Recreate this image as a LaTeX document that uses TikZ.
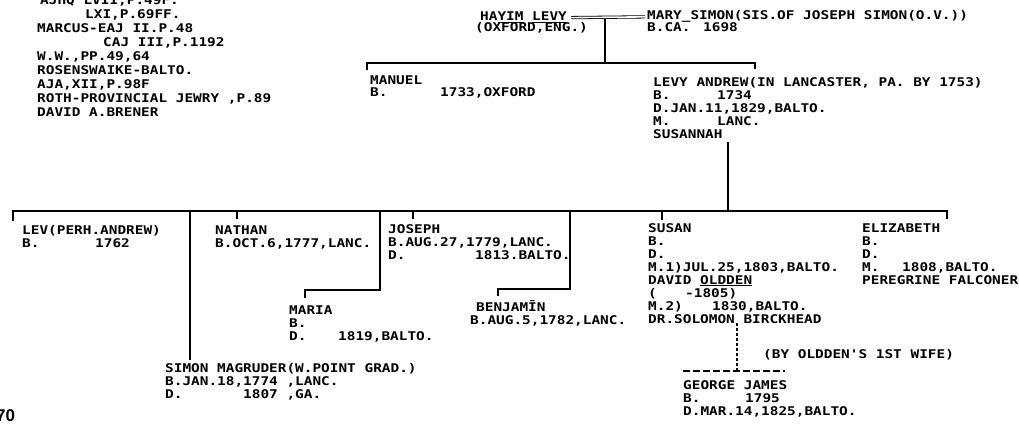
\documentclass[tikz,border=0pt]{standalone}
\usepackage{fontspec}
\newfontfamily\typefont[FakeStretch=1.2]{DejaVu Sans Mono}
\newfontfamily\pagefont{Liberation Sans}
\usetikzlibrary{positioning}
\newcommand{\col}[2]{\makebox[#1][l]{#2}}

\begin{document}
\begin{tikzpicture}[x=1pt, y=-1pt,
  person/.style={anchor=base west, inner sep=0pt, align=left,
                 font=\typefont\bfseries\fontsize{12}{13}\selectfont},
  sources/.style={person, font=\typefont\bfseries\fontsize{12}{14}\selectfont},
  treeline/.style={line width=1.3pt},
  wedline/.style={double, double distance=1.6pt, line width=0.8pt},
  dashline/.style={line width=1.1pt, dash pattern=on 7pt off 3pt}
]
\useasboundingbox (0,0) rectangle (1019,425);

% sources (placed by the baseline of the last line)
\node[sources] (refs) at (37,117) {\col{3pt}{}AJHQ LVII,P.49F.\\\col{48pt}{}LXI,P.69FF.\\MARCUS-EAJ II.P.48\\\col{66pt}{}CAJ III,P.1192\\W.W.,PP.49,64\\ROSENSWAIKE-BALTO.\\AJA,XII,P.98F\\ROTH-PROVINCIAL JEWRY ,P.89\\DAVID A.BRENER};

% first generation
\node[person] (hayim)      at (480,21) {HA\underline{YIM} \underline{LEVY}};
\node[person] (hayimplace) at (475,32) {(OXFORD,ENG.)};
\node[person] (mary)       at (647,20) {MARY\_SIMON(SIS.OF JOSEPH SIMON(O.V.))};
\node[person] (maryborn)   at (647,32) {\col{56pt}{B.CA.}1698};
\draw[wedline] ([xshift=4pt]hayim.east) -- ([xshift=-2pt]mary.west);

\coordinate (wed)  at (605,19);
\coordinate (sibA) at (605,63);
\draw[treeline] (wed) -- (sibA);

% second generation
\node[person] (manuel) at (370,97) {MANUEL\\\col{70pt}{B.}1733,OXFORD};
\node[person] (andrew) at (653,139) {LEVY ANDREW(IN LANCASTER, PA. BY 1753)\\\col{64pt}{B.}1734\\D.JAN.11,1829,BALTO.\\\col{64pt}{M.}LANC.\\SUSANNAH};

\coordinate (sibA-l) at (367,63);
\coordinate (sibA-r) at (755,63);
\draw[treeline] (sibA-l) ++(0,7) -- (sibA-l) -- (sibA-r) -- ++(0,6);

% third generation
\coordinate (sibB-l) at (13,211);
\coordinate (sibB-r) at (947,211);
\coordinate (dropB)  at (728,211);
\draw[treeline] ([yshift=-3pt]andrew.south -| dropB) -- (dropB);
\draw[treeline] (sibB-l) ++(0,10) -- (sibB-l) -- (sibB-r) -- ++(0,8);

\node[person] (lev)       at (22,247)  {LEV(PERH.ANDREW)\\\col{73pt}{B.}1762};
\node[person] (nathan)    at (215,247) {NATHAN\\B.OCT.6,1777,LANC.};
\node[person] (joseph)    at (388,259) {JOSEPH\\B.AUG.27,1779,LANC.\\\col{87pt}{D.}1813.BALTO.};
\node[person] (maria)     at (289,340) {MARIA\\B.\\\col{49pt}{D.}1819,BALTO.};
\node[person] (benjamin)  at (476,324) {BENJAM\=IN\\\hspace*{-6pt}B.AUG.5,1782,LANC.};
\node[person] (simon)     at (165,398) {SIMON MAGRUDER(W.POINT GRAD.)\\B.JAN.18,1774 ,LANC.\\\col{78pt}{D.}1807 ,GA.};
\node[person] (susan)     at (648,323) {SUSAN\\B.\\D.\\M.1)JUL.25,1803,BALTO.\\DAVID \underline{OLDDEN}\\\col{37pt}{(}-1805)\\\col{64pt}{M.2)}1830,BALTO.\\DR.SOLOMON BIRCKHEAD};
\node[person] (elizabeth) at (862,284) {ELIZABETH\\B.\\D.\\\col{40pt}{M.}1808,BALTO.\\PEREGRINE FALCONER};

\coordinate (jSimon)  at (190,211);
\coordinate (jNathan) at (237,211);
\coordinate (jMaria)  at (380,211);
\coordinate (jJoseph) at (413,211);
\coordinate (jBenj)   at (570,211);
\coordinate (jSusan)  at (662,211);
\coordinate (kneeMaria) at (305,290);
\coordinate (kneeBenj)  at (498,289);

\draw[treeline, shorten >=3pt] (jSimon) -- (jSimon |- simon.north);
\draw[treeline] (jNathan) -- ++(0,8);
\draw[treeline] (jMaria) |- (kneeMaria) -- ++(0,8);
\draw[treeline] (jJoseph) -- ++(0,8);
\draw[treeline] (jBenj) |- (kneeBenj) -- ++(0,7);
\draw[treeline] (jSusan) -- ++(0,9);

% fourth generation
\node[person] (oldnote) at (763,358) {(BY OLDDEN'S 1ST WIFE)};
\node[person] (george)  at (683,415) {GEORGE JAMES\\\col{62pt}{B.}1795\\D.MAR.14,1825,BALTO.};

\coordinate (kneeGeorge) at (737,371);
\coordinate (stepL) at (683,371);
\coordinate (stepR) at (785,371);
\draw[dashline, dash pattern=on 3pt off 2pt] (susan.south -| kneeGeorge) -- (kneeGeorge);
\draw[dashline] (stepL) -- (stepR);

\node[anchor=base west, inner sep=0pt, font=\pagefont\bfseries\fontsize{17}{17}\selectfont] (pageno) at (-4,421) {70};
\end{tikzpicture}
\end{document}
